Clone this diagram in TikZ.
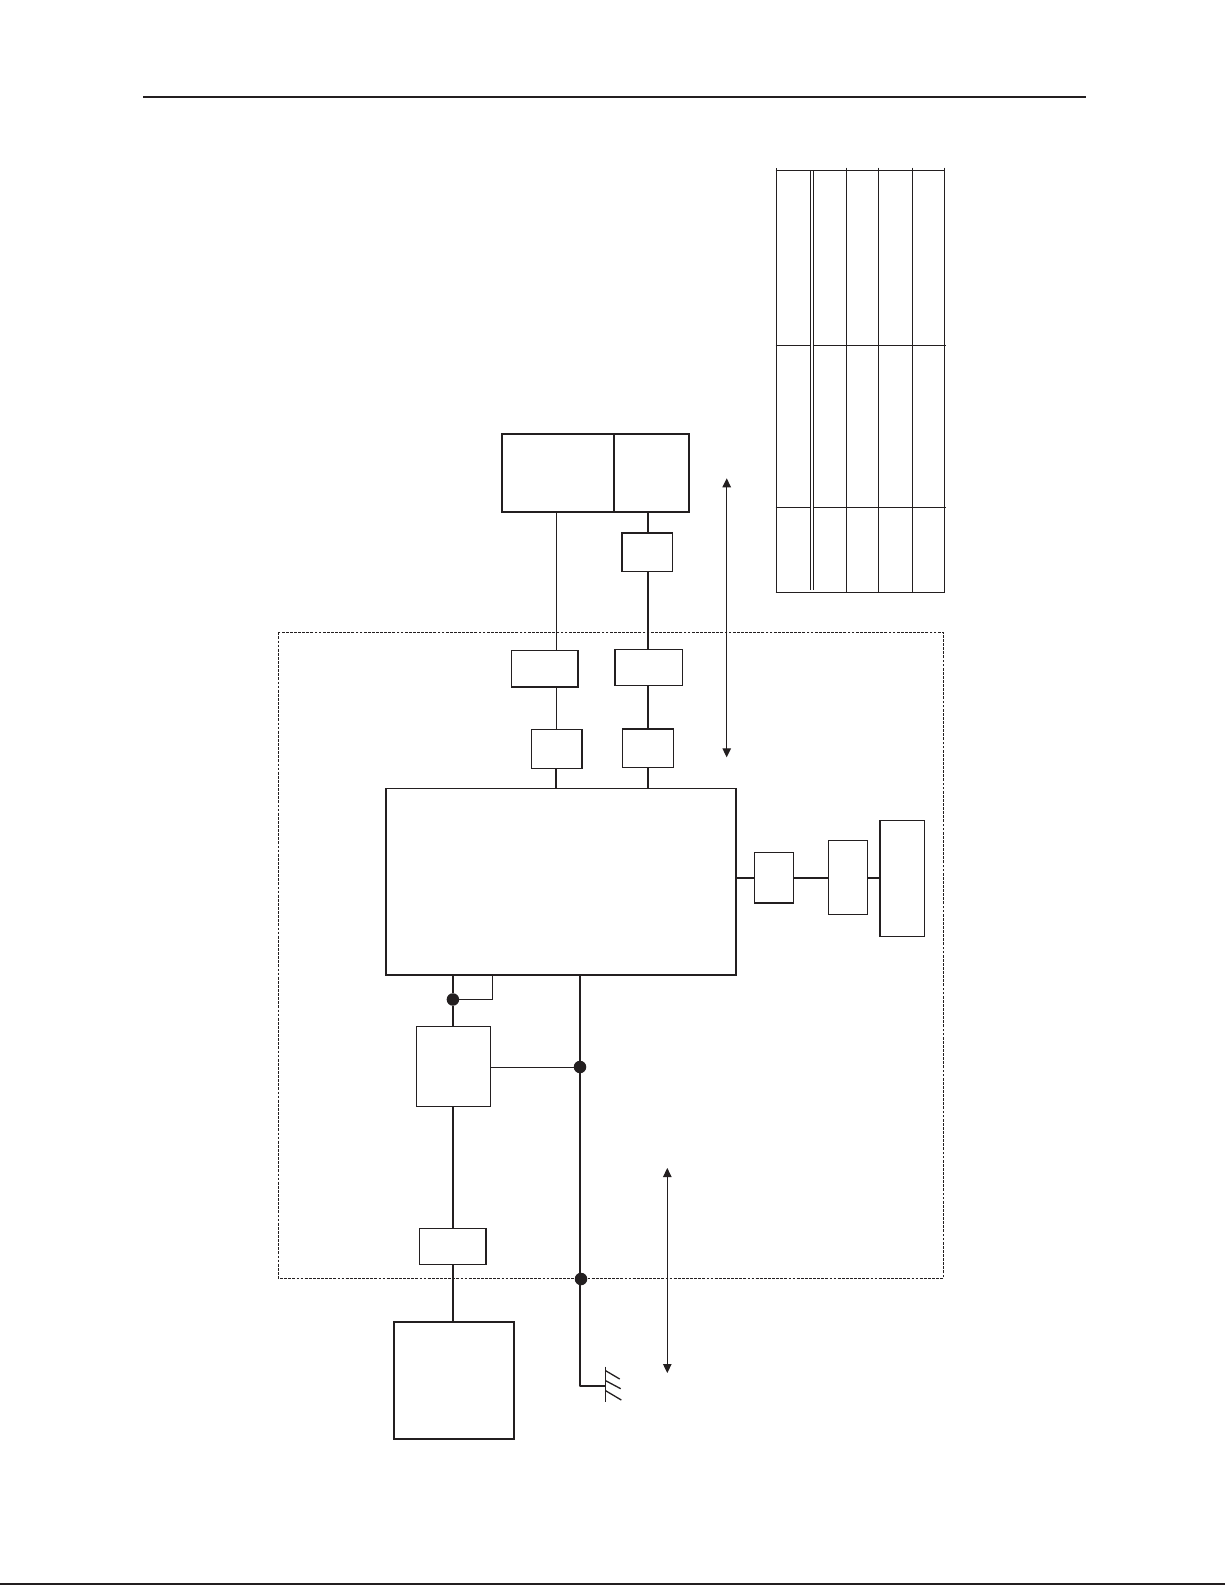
\documentclass[tikz,border=0pt]{standalone}
\usetikzlibrary{arrows.meta}
\definecolor{ink}{HTML}{231F20}
\newcommand{\bx}[5]{\node[boxed] (#1) at ({(#2+#4)/2},{(#3+#5)/2}) [minimum width={#4-#2},minimum height={#5-#3}] {};}
\tikzset{
  boxed/.style={draw=ink,line width=1.2pt,fill=white,rectangle,inner sep=0pt,outer sep=0pt},
  heavy/.style={draw=ink,line width=2.2pt,line cap=square},
  wire/.style={draw=ink,line width=1.9pt},
  finewire/.style={draw=ink,line width=1pt},
  rule/.style={draw=ink,line width=1.9pt},
  grid/.style={draw=ink,line width=1.1pt},
  boundary/.style={draw=ink,line width=1.1pt,dash pattern=on 2.8pt off 1.3pt},
  junction/.style={circle,fill=ink,draw=none,inner sep=0pt,outer sep=0pt,minimum size=12.5pt},
  span/.style={draw=ink,line width=1.1pt,{Triangle[length=9pt,width=8.5pt]}-{Triangle[length=9pt,width=8.5pt]}}
}
\begin{document}
\begin{tikzpicture}[x=1pt,y=-1pt]
\useasboundingbox (0,0) rectangle (1225,1585);
\fill[white] (0,0) rectangle (1225,1585);
% page rules
\coordinate (rl) at (143,97); \coordinate (rr) at (1086,97);
\draw[rule] (rl) -- (rr);
\coordinate (bl) at (0,1584); \coordinate (br) at (1225,1584);
\draw[rule] (bl) -- (br);
% boundary
\draw[boundary] (278.3,632.3) rectangle (943.3,1278.3);
% table
\foreach \y in {170.4,592.3} \draw[grid] (775.5,\y) -- (944.8,\y);
\foreach \y in {345.3,507.3} {\draw[grid] (775.5,\y) -- (809.5,\y); \draw[grid] (814,\y) -- (946,\y);}
\draw[grid] (776.3,168) -- (776.3,592.8);
\foreach \x in {846.3,878.3,912.3,944.3} \draw[grid] (\x,167.5) -- (\x,592.8);
\draw[grid,line width=0.9pt] (810.4,171) -- (810.4,590);
\draw[grid,line width=0.9pt] (813.2,171) -- (813.2,590);
% named anchors
\node[junction] (d1) at (452.9,999.5) {};
\node[junction] (d2) at (580,1067) {};
\node[junction] (d3) at (581,1279) {};
\coordinate (la) at (556.3,700);
\coordinate (lb) at (647.7,700);
\coordinate (lc) at (580,1385.7);
\coordinate (ly) at (600,878);
% boxes
\bx{main}{385.7}{788.3}{736}{975.3}
\bx{top}{501.7}{434}{689}{512.3}
\bx{bone}{621.7}{532.7}{672.3}{571.3}
\bx{atwo}{511.3}{650.3}{578.3}{687}
\bx{btwo}{614.7}{649.3}{682.3}{685.3}
\bx{athree}{531.3}{729.3}{582}{768.3}
\bx{bthree}{622.3}{728.7}{673.3}{767.3}
\bx{rone}{754.3}{852.3}{793.3}{903}
\bx{rtwo}{828.3}{840.3}{867.3}{914.3}
\bx{rthree}{879.7}{820.3}{924.3}{936.3}
\bx{reg}{416.3}{1026.3}{490.3}{1106.3}
\bx{conn}{419.3}{1228.3}{486.3}{1264.3}
\bx{src}{393.7}{1321.7}{514}{1439.3}
% heavier sides
\draw[heavy] (top.north west) -- (top.north east) -- (top.south east) -- (top.south west) -- cycle;
\draw[wire,line width=1.7pt] (top.north -| 614.3,0) -- (top.south -| 614.3,0);
\draw[heavy] (bone.south west) -- (bone.north west) -- (bone.north east);
\draw[heavy] (atwo.north east) -- (atwo.south east) -- (atwo.south west);
\draw[heavy] (btwo.north west) -- (btwo.south west);
\draw[heavy] (athree.north east) -- (athree.south east);
\draw[heavy] (bthree.north west) -- (bthree.north east);
\draw[heavy] (rone.south west) -- (rone.south east);
\draw[heavy] (rthree.north west) -- (rthree.south west);
\draw[heavy] (conn.north east) -- (conn.south east);
\draw[heavy] (src.north west) -- (src.north east) -- (src.south east) -- (src.south west) -- cycle;
\draw[heavy,line width=1.7pt] (main.south east) -- (main.south west) -- (main.north west);
\draw[heavy,line width=1.9pt] (main.north east) -- (main.south east);
% connectors: upper
\draw[wire,line width=1.3pt] (top.south -| la) -- (atwo.north -| la);
\draw[wire,line width=1.3pt] (atwo.south -| la) -- (athree.north -| la);
\draw[wire] (athree.south -| la) -- (main.north -| la);
\draw[wire] (top.south -| lb) -- (bone.north -| lb);
\draw[wire] (bone.south -| lb) -- (btwo.north -| lb);
\draw[wire] (btwo.south -| lb) -- (bthree.north -| lb);
\draw[wire] (bthree.south -| lb) -- (main.north -| lb);
% connectors: right
\draw[wire] (main.east |- ly) -- (rone.west |- ly);
\draw[wire] (rone.east |- ly) -- (rtwo.west |- ly);
\draw[wire] (rtwo.east |- ly) -- (rthree.west |- ly);
% connectors: lower
\coordinate (lp) at (492.3,975.3);
\draw[wire] (main.south -| d1) -- (d1);
\draw[finewire,line width=1.2pt] (lp) |- (d1);
\draw[wire] (d1) -- (reg.north -| d1);
\draw[wire] (reg.south -| d1) -- (conn.north -| d1);
\draw[wire] (conn.south -| d1) -- (src.north -| d1);
\draw[finewire] (reg.east |- d2) -- (d2);
\draw[wire,line join=round] (main.south -| d2) -- (lc) -- (605.3,1385.7);
% ground symbol
\coordinate (ga) at (605.3,1366.7); \coordinate (gb) at (605.3,1401.7);
\draw[finewire,line width=1.3pt] (ga) -- (gb);
\draw[finewire,line width=1.3pt] (605.3,1370.5) -- (619.7,1379);
\draw[finewire,line width=1.3pt] (605.3,1380.5) -- (620.7,1388.7);
\draw[finewire,line width=1.3pt] (605.3,1390.5) -- (621.3,1400);
% dimension arrows
\coordinate (aa) at (726.7,478.3); \coordinate (ab) at (726.7,757.3);
\draw[span] (aa) -- (ab);
\coordinate (ac) at (667.3,1168); \coordinate (ad) at (667.3,1373);
\draw[span] (ac) -- (ad);
\end{tikzpicture}
\end{document}
